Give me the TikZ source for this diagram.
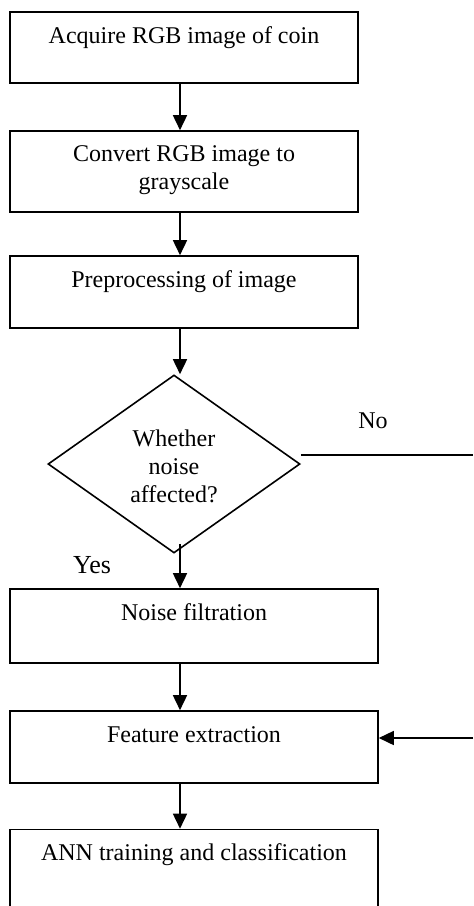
\documentclass[tikz,border=0pt]{standalone}
\usepackage{fontspec}
\setmainfont{Liberation Serif}
\usetikzlibrary{arrows.meta,shapes.geometric}
\begin{document}
\begin{tikzpicture}[x=0.5pt,y=-0.5pt,line width=0.8pt,
  stepbox/.style={draw,rectangle,inner sep=0pt,line width=0.8pt},
  decision/.style={draw,diamond,inner sep=0pt,line width=0.8pt},
  boxtext/.style={anchor=base,inner sep=0pt,align=center,font=\fontsize{12}{13.8}\selectfont},
  flow/.style={-{Triangle[width=7pt,length=7.5pt]}}]
\useasboundingbox (0,0) rectangle (473,906);
\clip (0,0) rectangle (473,906);

% process boxes and the decision
\node[stepbox,minimum width=174pt,minimum height=35.5pt] (b1) at (184,47.5) {};
\node[stepbox,minimum width=174pt,minimum height=40.5pt] (b2) at (184,171.5) {};
\node[stepbox,minimum width=174pt,minimum height=36pt] (b3) at (184,292) {};
\node[decision,minimum width=126pt,minimum height=89pt] (dec) at (174,464) {};
\node[stepbox,minimum width=184pt,minimum height=37pt] (b4) at (194,626) {};
\node[stepbox,minimum width=184pt,minimum height=36pt] (b5) at (194,747) {};
\node[stepbox,minimum width=184pt,minimum height=41pt] (b6) at (194,870.5) {};

% texts (base anchor sits on the last line)
\node[boxtext] (t1) at ([yshift=-16pt]b1.north) {Acquire RGB image of coin};
\node[boxtext] (t2) at ([yshift=-29.5pt]b2.north) {Convert RGB image to\\grayscale};
\node[boxtext] (t3) at ([yshift=-16pt]b3.north) {Preprocessing of image};
\node[boxtext] (td) at ([yshift=-19pt]dec.center) {Whether\\noise\\affected?};
\node[boxtext] (t4) at ([yshift=-16pt]b4.north) {Noise filtration};
\node[boxtext] (t5) at ([yshift=-16pt]b5.north) {Feature extraction};
\node[boxtext] (t6) at ([yshift=-16pt]b6.north) {ANN training and classification};
\node[boxtext] (no) at (373,428) {No};
\node[boxtext,font=\fontsize{13}{15}\selectfont] (yes) at (92,573) {Yes};

% connector helpers
\coordinate (ax) at (180,0);
\coordinate (dbot) at ([yshift=5pt]dec.south);
\coordinate (noend) at (473,455);
\coordinate (fbin) at (473,738);

% connectors
\draw[flow] (b1.south -| ax) -- (b2.north -| ax);
\draw[flow] (b2.south -| ax) -- (b3.north -| ax);
\draw[flow] (b3.south -| ax) -- (dec.north -| ax);
\draw[flow] (dbot -| ax) -- (b4.north -| ax);
\draw[flow] (b4.south -| ax) -- (b5.north -| ax);
\draw[flow] (b5.south -| ax) -- (b6.north -| ax);
\draw ([yshift=4.5pt]dec.east) -- (noend);
\draw[flow] (fbin) -- (fbin -| b5.east);
\end{tikzpicture}
\end{document}
